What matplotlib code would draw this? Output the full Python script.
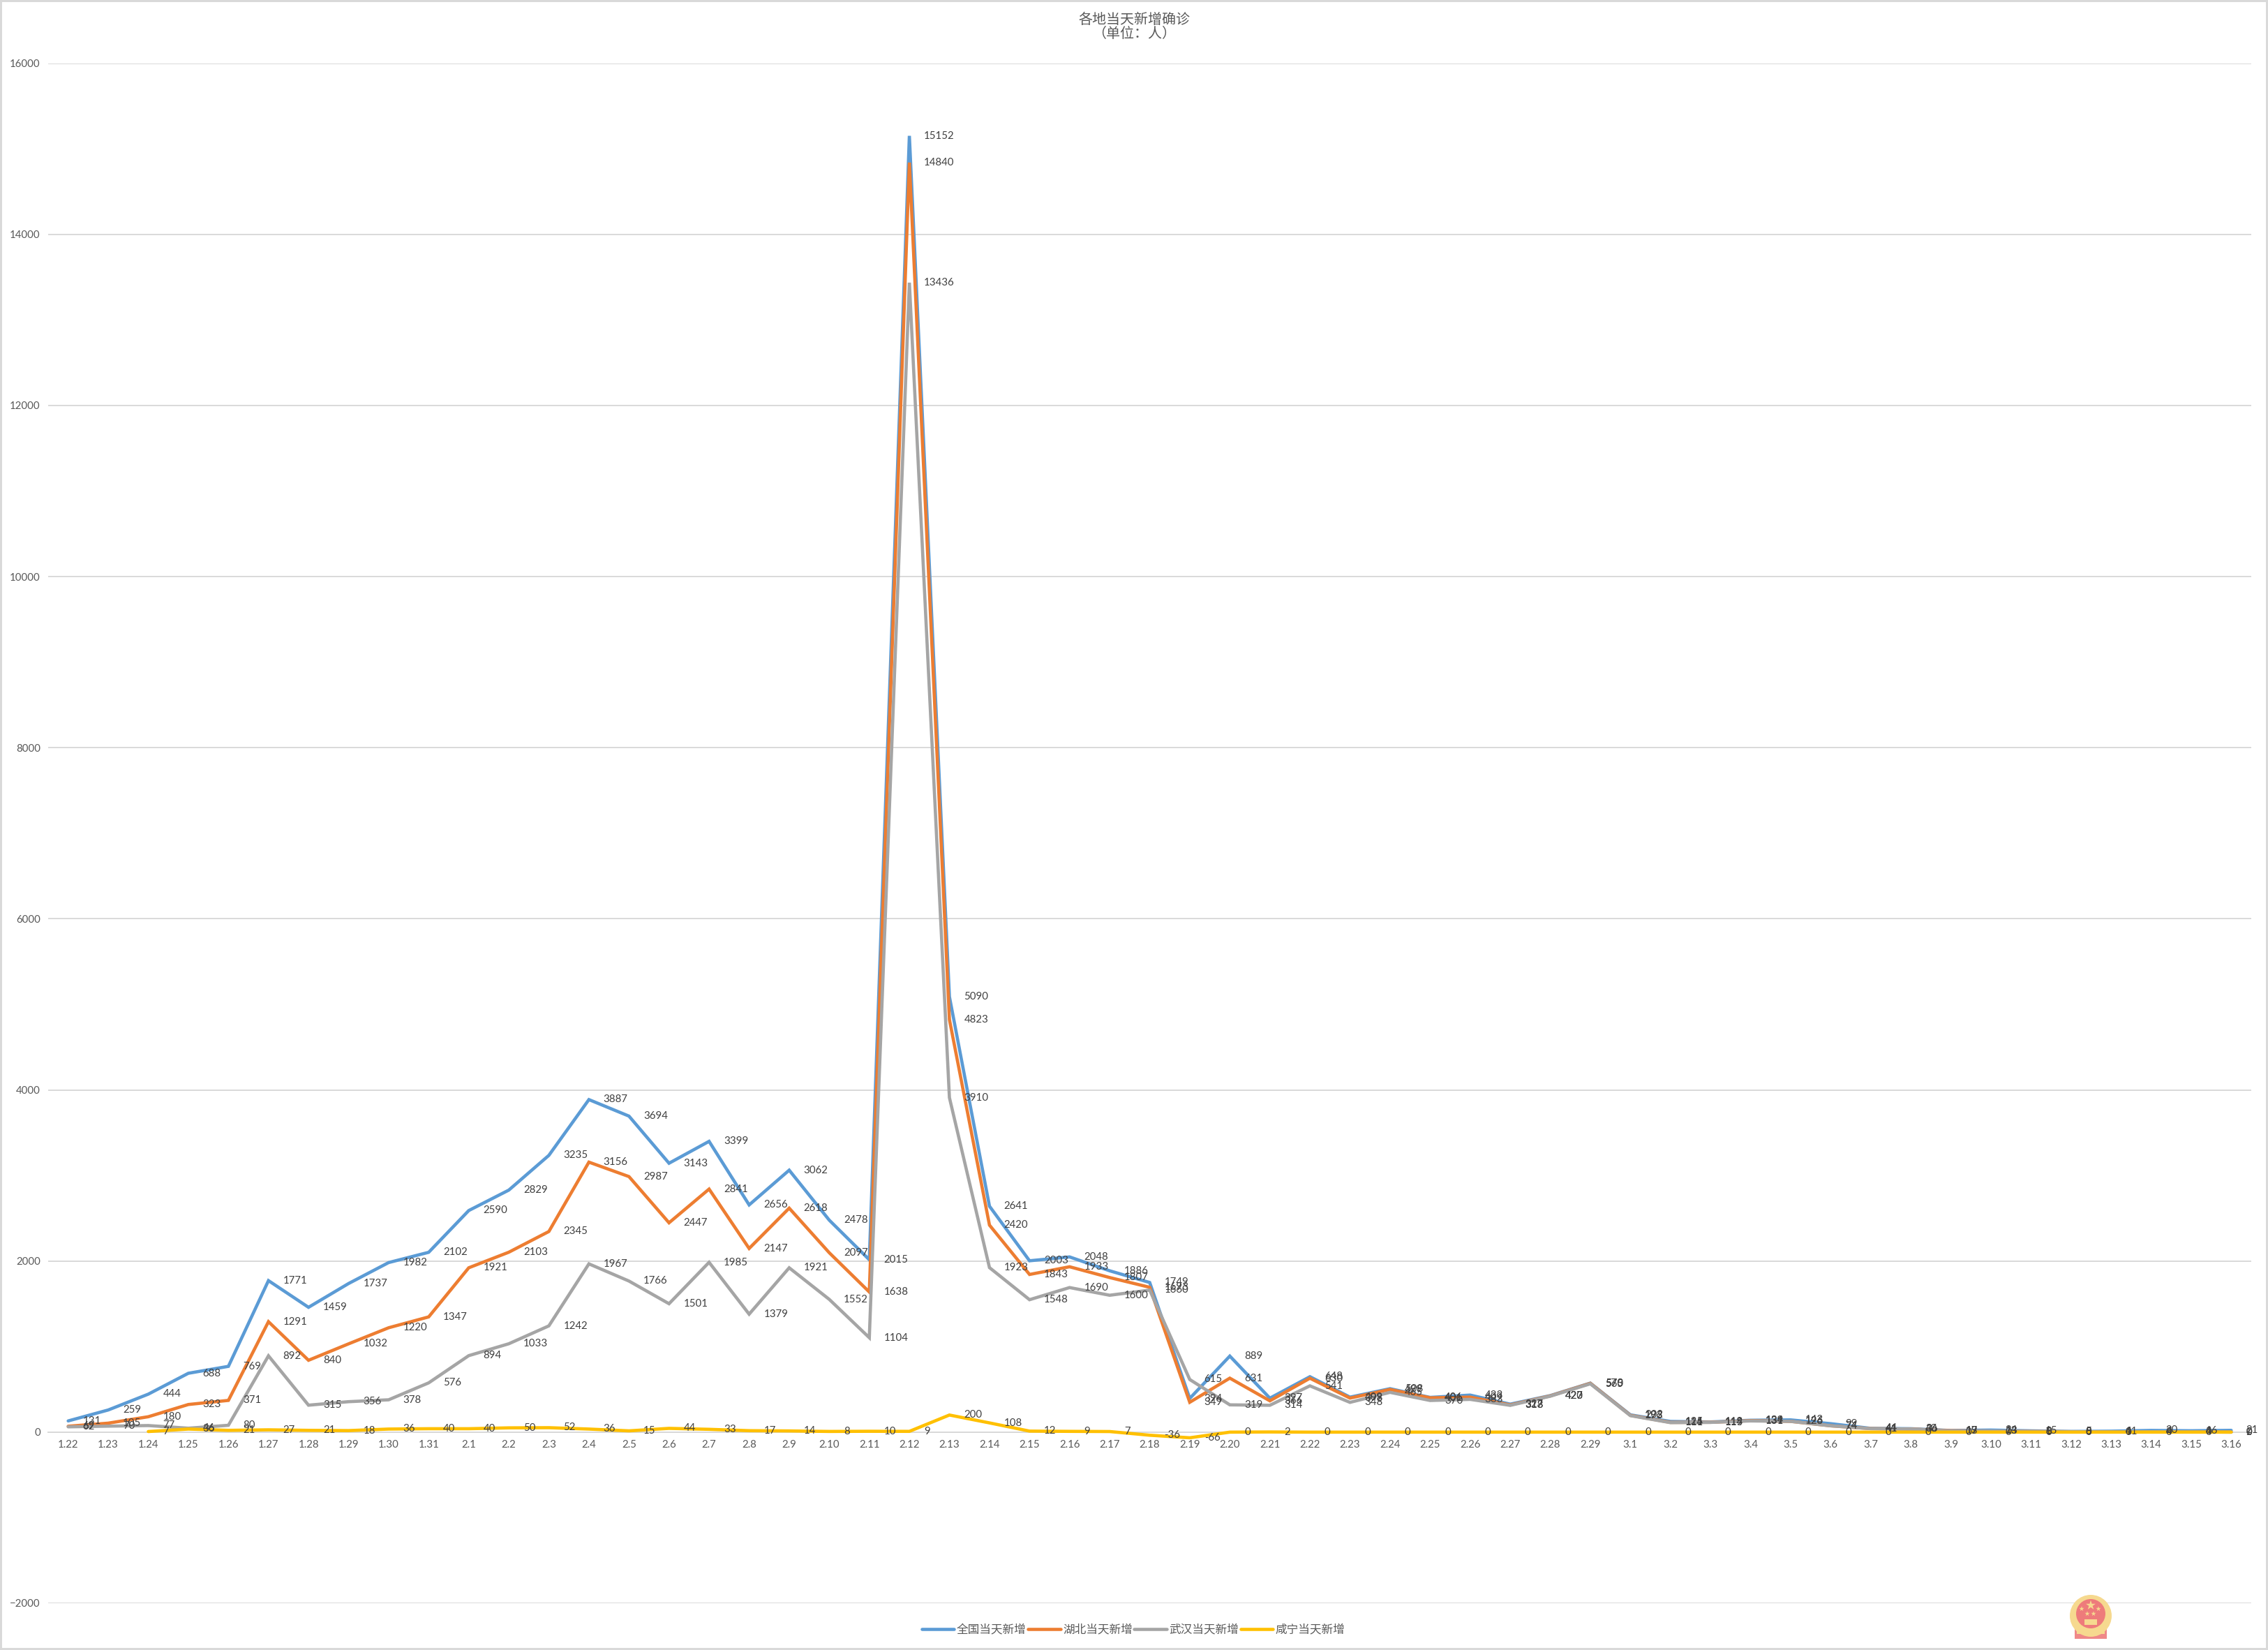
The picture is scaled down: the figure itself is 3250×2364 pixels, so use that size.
import matplotlib
matplotlib.use('Agg')
import matplotlib.pyplot as plt
from matplotlib.patches import Circle, Rectangle

plt.rcParams['font.family'] = ['Lato', 'Noto Sans CJK SC', 'DejaVu Sans']

# x categories
dates = ['1.22', '1.23', '1.24', '1.25', '1.26', '1.27', '1.28', '1.29', '1.30', '1.31',
         '2.1', '2.2', '2.3', '2.4', '2.5', '2.6', '2.7', '2.8', '2.9', '2.10',
         '2.11', '2.12', '2.13', '2.14', '2.15', '2.16', '2.17', '2.18', '2.19', '2.20',
         '2.21', '2.22', '2.23', '2.24', '2.25', '2.26', '2.27', '2.28', '2.29',
         '3.1', '3.2', '3.3', '3.4', '3.5', '3.6', '3.7', '3.8', '3.9', '3.10',
         '3.11', '3.12', '3.13', '3.14', '3.15', '3.16']

# daily new cases
china = [131, 259, 444, 688, 769, 1771, 1459, 1737, 1982, 2102,
         2590, 2829, 3235, 3887, 3694, 3143, 3399, 2656, 3062, 2478,
         2015, 15152, 5090, 2641, 2003, 2048, 1886, 1749, 394, 889,
         397, 648, 409, 508, 406, 433, 327, 427, 573,
         202, 125, 119, 139, 143, 99, 44, 40, 19, 24,
         15, 8, 11, 20, 16, 21]
hubei = [69, 105, 180, 323, 371, 1291, 840, 1032, 1220, 1347,
         1921, 2103, 2345, 3156, 2987, 2447, 2841, 2147, 2618, 2097,
         1638, 14840, 4823, 2420, 1843, 1933, 1807, 1693, 349, 631,
         366, 630, 398, 499, 401, 409, 318, 423, 570,
         196, 114, 115, 134, 126, 74, 41, 36, 17, 13,
         8, 5, 4, 4, 4, 1]
wuhan = [62, 70, 77, 46, 80, 892, 315, 356, 378, 576,
         894, 1033, 1242, 1967, 1766, 1501, 1985, 1379, 1921, 1552,
         1104, 13436, 3910, 1923, 1548, 1690, 1600, 1660, 615, 319,
         314, 541, 348, 465, 370, 383, 313, 420, 565,
         193, 111, 114, 131, 126, 74, 41, 36, 13, 13,
         8, 5, 4, 4, 4, 0]
xianning = [None, None, 7, 36, 21, 27, 21, 18, 36, 40,
            40, 50, 52, 36, 15, 44, 33, 17, 14, 8,
            10, 9, 200, 108, 12, 9, 7, -36, -66, 0,
            2, 0, 0, 0, 0, 0, 0, 0, 0,
            0, 0, 0, 0, 0, 0, 0, 0, 0, 0,
            0, 0, 0, 0, 0, 0]

names = ['全国当天新增', '湖北当天新增', '武汉当天新增', '咸宁当天新增']
colors = ['#5B9BD5', '#ED7D31', '#A5A5A5', '#FFC000']
yticks = list(range(-2000, 16001, 2000))

W, H = 3250, 2364
fig = plt.figure(figsize=(W / 100, H / 100), dpi=100, facecolor='white',
                 edgecolor='#D9D9D9', linewidth=4)
ax = fig.add_axes([69 / W, (H - 2297) / H, (3226 - 69) / W, (2297 - 90.7) / H])

x = list(range(len(dates)))
for series, name, color in zip([china, hubei, wuhan, xianning], names, colors):
    xs = [i for i, v in zip(x, series) if v is not None]
    ys = [v for v in series if v is not None]
    ax.plot(xs, ys, color=color, lw=3.3, label=name, solid_capstyle='round',
            solid_joinstyle='miter', zorder=3)

# data labels, right of each point
for series in [china, hubei, wuhan, xianning]:
    for i, v in enumerate(series):
        if v is None:
            continue
        ax.annotate(str(v), (i, v), xytext=(15, 0), textcoords='offset points',
                    ha='left', va='center', fontsize=10.8, color='#404040', zorder=4)

ax.set_xlim(-0.5, len(dates) - 0.5)
ax.set_ylim(-2000, 16000)
ax.set_xticks(x)
ax.set_xticklabels(dates)
ax.set_yticks(yticks)
ax.tick_params(axis='both', length=0, labelsize=10.8, labelcolor='#595959')
ax.tick_params(axis='x', pad=8)
ax.tick_params(axis='y', pad=8)
ax.grid(axis='y', color='#D9D9D9', lw=1.4)
ax.set_axisbelow(True)
for side in ['top', 'left', 'right']:
    ax.spines[side].set_visible(False)
ax.spines['bottom'].set_position(('data', 0))
ax.spines['bottom'].set_color('#D9D9D9')
ax.spines['bottom'].set_linewidth(1.4)

fig.text(1625 / W, 1 - 38.5 / H, '各地当天新增确诊\n（单位：人）', ha='center', va='center',
         fontsize=14.4, color='#595959', linespacing=0.95,
         family=['Noto Sans CJK SC', 'DejaVu Sans'], fontweight='light')

handles, labels = ax.get_legend_handles_labels()
fig.legend(handles, labels, loc='center', bbox_to_anchor=(1624 / W, 1 - 2335 / H), ncol=4,
           frameon=False, fontsize=12, labelcolor='#595959', handlelength=2.8,
           handletextpad=0.2, columnspacing=0.15, borderpad=0, borderaxespad=0,
           prop={'family': ['Noto Sans CJK SC', 'DejaVu Sans'], 'size': 12})

# faint emblem in the lower right corner
em = fig.add_axes([2966 / W, (H - 2349) / H, 60 / W, 64 / H])
em.set_xlim(0, 60)
em.set_ylim(0, 64)
em.axis('off')
em.add_patch(Rectangle((7, 1), 46, 16, color='#EE7B7B', alpha=0.9, lw=0))
em.add_patch(Circle((30, 34), 30, color='#F6D98F', lw=0))
em.add_patch(Circle((30, 37), 21, color='#EE7B7B', lw=0))
em.add_patch(Rectangle((21, 21), 18, 8, color='#F6D98F', lw=0))
em.add_patch(Rectangle((10, 8), 40, 5, color='#F6D98F', lw=0))
em.scatter([30, 17, 41, 25, 34], [49, 44, 44, 37, 37], marker='*', s=[110, 30, 30, 30, 30],
           color='#F6D98F', lw=0)

fig.savefig('out.png', dpi=100)
